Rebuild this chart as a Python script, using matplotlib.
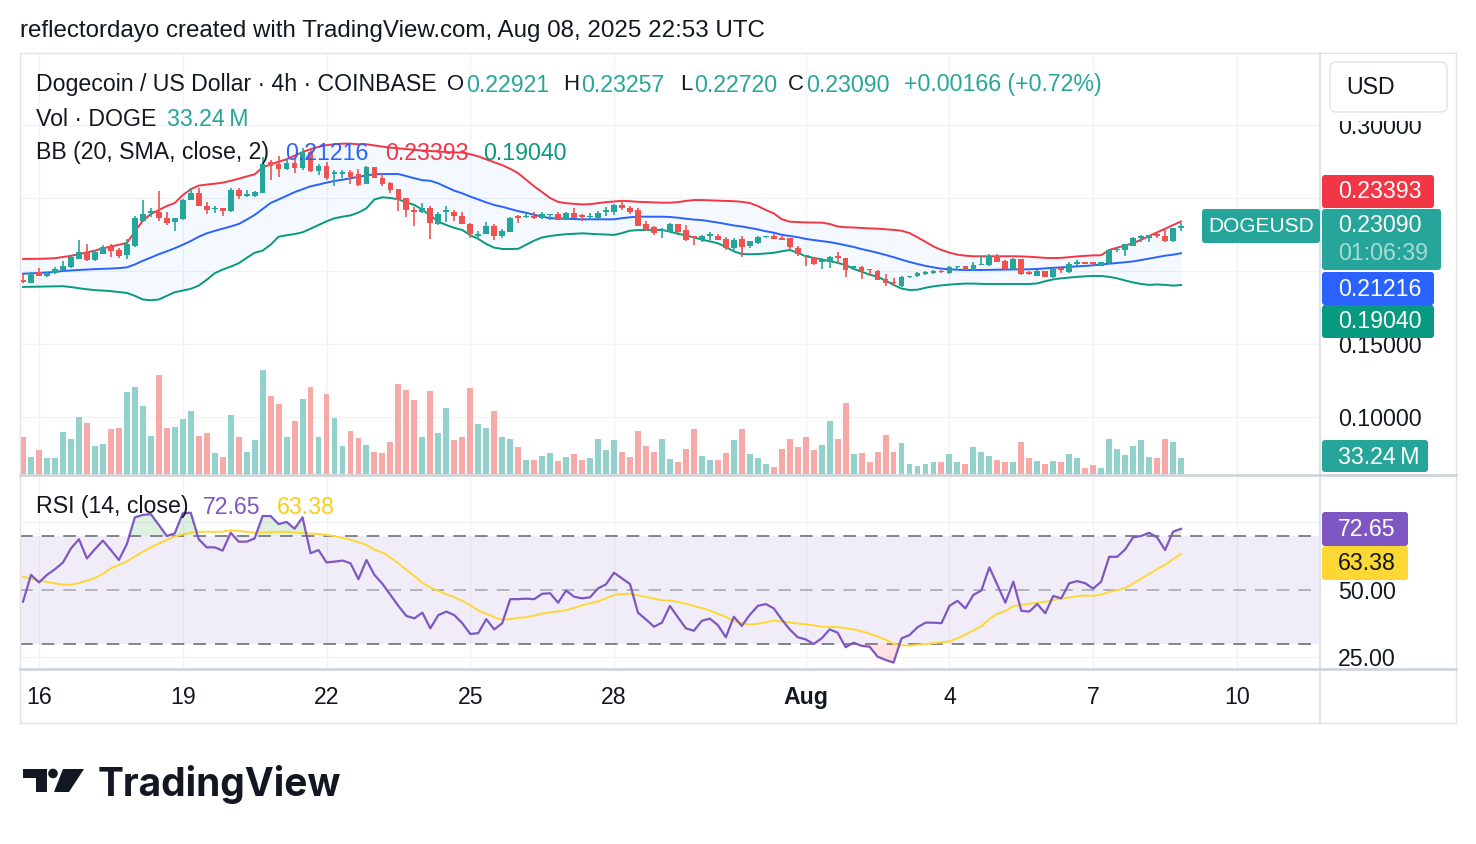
import numpy as np
import pandas as pd
import matplotlib
matplotlib.use("Agg")
import matplotlib.pyplot as plt
from matplotlib.patches import FancyBboxPatch, Rectangle, Polygon, Circle
from matplotlib.lines import Line2D
from matplotlib.transforms import Affine2D

# ---------------- data ----------------
start_time = "2025-07-15 16:00"
bar_hours = 4

opens = [0.1940, 0.1919, 0.1991, 0.1966, 0.1987, 0.2005, 0.2028, 0.2083, 0.2128, 0.2074,
         0.2119, 0.2165, 0.2146, 0.2110, 0.2174, 0.2343, 0.2397, 0.2402, 0.2365, 0.2338,
         0.2356, 0.2489, 0.2534, 0.2448, 0.2425, 0.2434, 0.2411, 0.2553, 0.2516, 0.2511,
         0.2534, 0.2744, 0.2735, 0.2698, 0.2740, 0.2708, 0.2817, 0.2685, 0.2717, 0.2662,
         0.2662, 0.2680, 0.2662, 0.2598, 0.2712, 0.2639, 0.2603, 0.2562, 0.2498, 0.2420,
         0.2402, 0.2434, 0.2324, 0.2402, 0.2406, 0.2379, 0.2320, 0.2242, 0.2256, 0.2311,
         0.2242, 0.2270, 0.2374, 0.2370, 0.2379, 0.2365, 0.2384, 0.2388, 0.2352, 0.2397,
         0.2384, 0.2370, 0.2361, 0.2402, 0.2402, 0.2452, 0.2434, 0.2420, 0.2320, 0.2301,
         0.2274, 0.2265, 0.2320, 0.2279, 0.2238, 0.2210, 0.2238, 0.2242, 0.2219, 0.2160,
         0.2219, 0.2169, 0.2192, 0.2233, 0.2238, 0.2229, 0.2224, 0.2160, 0.2110, 0.2092,
         0.2065, 0.2060, 0.2101, 0.2087, 0.2023, 0.2028, 0.2014, 0.2001, 0.1946, 0.1928,
         0.1900, 0.1960, 0.1966, 0.1982, 0.1987, 0.2001, 0.1987, 0.2028, 0.2032, 0.2005,
         0.2042, 0.2042, 0.2106, 0.2069, 0.2014, 0.2083, 0.1992, 0.1969, 0.2001, 0.1960,
         0.2019, 0.1992, 0.2051, 0.2065, 0.2060, 0.2033, 0.2056, 0.2142, 0.2142, 0.2174,
         0.2224, 0.2229, 0.2251, 0.2238, 0.2206, 0.22921]
highs = [0.1978, 0.1992, 0.2023, 0.1996, 0.2028, 0.2067, 0.2101, 0.2210, 0.2183, 0.2142,
         0.2178, 0.2187, 0.2156, 0.2219, 0.2379, 0.2489, 0.2429, 0.2548, 0.2406, 0.2365,
         0.2493, 0.2571, 0.2571, 0.2470, 0.2443, 0.2434, 0.2571, 0.2571, 0.2557, 0.2548,
         0.2780, 0.2758, 0.2790, 0.2758, 0.2780, 0.2840, 0.2835, 0.2735, 0.2744, 0.2690,
         0.2690, 0.2690, 0.2698, 0.2717, 0.2712, 0.2666, 0.2607, 0.2562, 0.2500, 0.2438,
         0.2466, 0.2443, 0.2402, 0.2448, 0.2416, 0.2406, 0.2329, 0.2274, 0.2338, 0.2320,
         0.2288, 0.2370, 0.2384, 0.2393, 0.2402, 0.2402, 0.2393, 0.2402, 0.2406, 0.2434,
         0.2393, 0.2397, 0.2411, 0.2438, 0.2461, 0.2484, 0.2443, 0.2434, 0.2343, 0.2306,
         0.2292, 0.2329, 0.2320, 0.2315, 0.2242, 0.2247, 0.2270, 0.2251, 0.2233, 0.2228,
         0.2242, 0.2206, 0.2242, 0.2242, 0.2260, 0.2242, 0.2224, 0.2169, 0.2110, 0.2096,
         0.2074, 0.2106, 0.2128, 0.2092, 0.2032, 0.2032, 0.2014, 0.2005, 0.1978, 0.1951,
         0.1964, 0.1969, 0.1996, 0.2001, 0.2005, 0.2005, 0.2032, 0.2037, 0.2037, 0.2065,
         0.2101, 0.2115, 0.2115, 0.2074, 0.2087, 0.2083, 0.2001, 0.2010, 0.2001, 0.2023,
         0.2019, 0.2060, 0.2074, 0.2065, 0.2065, 0.2065, 0.2151, 0.2160, 0.2187, 0.2233,
         0.2247, 0.2247, 0.2265, 0.2292, 0.2297, 0.23257]
lows = [0.1919, 0.1919, 0.1964, 0.1960, 0.1982, 0.2001, 0.2023, 0.2083, 0.2069, 0.2069,
        0.2115, 0.2096, 0.2092, 0.2083, 0.2165, 0.2338, 0.2370, 0.2343, 0.2315, 0.2274,
        0.2352, 0.2484, 0.2443, 0.2393, 0.2400, 0.2379, 0.2406, 0.2493, 0.2507, 0.2507,
        0.2534, 0.2621, 0.2644, 0.2689, 0.2671, 0.2690, 0.2680, 0.2658, 0.2625, 0.2580,
        0.2635, 0.2598, 0.2584, 0.2594, 0.2639, 0.2584, 0.2534, 0.2411, 0.2370, 0.2311,
        0.2397, 0.2220, 0.2315, 0.2334, 0.2343, 0.2320, 0.2228, 0.2219, 0.2251, 0.2215,
        0.2228, 0.2265, 0.2329, 0.2361, 0.2356, 0.2356, 0.2347, 0.2347, 0.2347, 0.2361,
        0.2343, 0.2352, 0.2356, 0.2379, 0.2384, 0.2416, 0.2393, 0.2306, 0.2274, 0.2247,
        0.2228, 0.2260, 0.2260, 0.2206, 0.2178, 0.2201, 0.2215, 0.2210, 0.2142, 0.2146,
        0.2096, 0.2156, 0.2187, 0.2224, 0.2219, 0.2210, 0.2151, 0.2101, 0.2037, 0.2042,
        0.2014, 0.2023, 0.2051, 0.1960, 0.2005, 0.1946, 0.1969, 0.1937, 0.1896, 0.1901,
        0.1891, 0.1951, 0.1960, 0.1973, 0.1982, 0.1987, 0.1982, 0.2005, 0.2005, 0.2001,
        0.2042, 0.2037, 0.2060, 0.2010, 0.2010, 0.1973, 0.1973, 0.1964, 0.1960, 0.1955,
        0.1987, 0.1987, 0.2033, 0.2046, 0.2037, 0.2033, 0.2051, 0.2128, 0.2101, 0.2169,
        0.2201, 0.2197, 0.2224, 0.2201, 0.2201, 0.22720]
closes = [0.1925, 0.1987, 0.1969, 0.1987, 0.2014, 0.2037, 0.2096, 0.2128, 0.2078, 0.2128,
          0.2165, 0.2137, 0.2106, 0.2183, 0.2365, 0.2388, 0.2411, 0.2361, 0.2329, 0.2361,
          0.2489, 0.2534, 0.2448, 0.2416, 0.2433, 0.2411, 0.2557, 0.2512, 0.2530, 0.2543,
          0.2735, 0.2717, 0.2698, 0.2740, 0.2708, 0.2817, 0.2685, 0.2717, 0.2635, 0.2676,
          0.2680, 0.2644, 0.2589, 0.2712, 0.2639, 0.2594, 0.2552, 0.2489, 0.2420, 0.2402,
          0.2434, 0.2329, 0.2393, 0.2416, 0.2379, 0.2320, 0.2251, 0.2256, 0.2311, 0.2242,
          0.2274, 0.2365, 0.2361, 0.2379, 0.2365, 0.2388, 0.2393, 0.2352, 0.2397, 0.2365,
          0.2370, 0.2379, 0.2397, 0.2416, 0.2452, 0.2429, 0.2406, 0.2311, 0.2283, 0.2261,
          0.2283, 0.2320, 0.2270, 0.2215, 0.2224, 0.2238, 0.2251, 0.2215, 0.2156, 0.2210,
          0.2165, 0.2206, 0.2233, 0.2242, 0.2219, 0.2215, 0.2165, 0.2115, 0.2101, 0.2051,
          0.2074, 0.2096, 0.2092, 0.2010, 0.2032, 0.2001, 0.2005, 0.1941, 0.1919, 0.1919,
          0.1960, 0.1969, 0.1987, 0.1996, 0.2001, 0.1992, 0.2028, 0.2037, 0.2010, 0.2042,
          0.2051, 0.2106, 0.2065, 0.2014, 0.2083, 0.1978, 0.1978, 0.2001, 0.1960, 0.2014,
          0.2010, 0.2051, 0.2065, 0.2051, 0.2051, 0.2060, 0.2142, 0.2151, 0.2183, 0.2228,
          0.2238, 0.2247, 0.2238, 0.2206, 0.2292, 0.23090]
volumes_m = [76, 36, 50, 33, 33, 88, 73, 119, 107, 59, 63, 94, 96, 171, 182, 142, 80, 205, 96, 98,
             115, 132, 80, 86, 43, 36, 123, 78, 46, 71, 217, 163, 146, 78, 111, 157, 182, 78, 167, 117,
             59, 90, 74, 61, 46, 44, 67, 188, 175, 153, 78, 173, 86, 138, 71, 78, 178, 105, 96, 132,
             76, 73, 57, 30, 30, 38, 44, 28, 36, 42, 30, 34, 73, 49, 71, 46, 36, 90, 59, 46,
             73, 32, 26, 51, 94, 38, 30, 30, 44, 71, 94, 42, 34, 21, 15, 51, 73, 57, 76, 49,
             61, 111, 73, 148, 42, 44, 24, 46, 82, 46, 65, 21, 17, 21, 26, 26, 42, 26, 21, 57,
             46, 38, 30, 24, 24, 67, 34, 28, 21, 28, 24, 42, 34, 13, 19, 13, 73, 53, 40, 59,
             71, 36, 34, 73, 67, 33.24]
bb_upper = [0.2083, 0.2083, 0.2084, 0.2085, 0.2088, 0.2096, 0.2104, 0.2115, 0.2128, 0.2140,
            0.2155, 0.2168, 0.2180, 0.2192, 0.2270, 0.2345, 0.2390, 0.2418, 0.2445, 0.2466,
            0.2520, 0.2560, 0.2585, 0.2592, 0.2598, 0.2605, 0.2618, 0.2632, 0.2648, 0.2662,
            0.2710, 0.2730, 0.2748, 0.2765, 0.2790, 0.2815, 0.2835, 0.2850, 0.2862, 0.2868,
            0.2872, 0.2872, 0.2868, 0.2868, 0.2860, 0.2852, 0.2845, 0.2840, 0.2835, 0.2830,
            0.2825, 0.2822, 0.2818, 0.2815, 0.2812, 0.2811, 0.2800, 0.2785, 0.2765, 0.2745,
            0.2725, 0.2700, 0.2670, 0.2625, 0.2580, 0.2540, 0.2500, 0.2473, 0.2465, 0.2460,
            0.2456, 0.2458, 0.2465, 0.2472, 0.2476, 0.2481, 0.2478, 0.2474, 0.2472, 0.2470,
            0.2468, 0.2468, 0.2472, 0.2480, 0.2486, 0.2486, 0.2484, 0.2482, 0.2480, 0.2478,
            0.2474, 0.2466, 0.2445, 0.2418, 0.2395, 0.2355, 0.2338, 0.2335, 0.2333, 0.2332,
            0.2331, 0.2322, 0.2305, 0.2300, 0.2298, 0.2295, 0.2292, 0.2290, 0.2286, 0.2282,
            0.2276, 0.2260, 0.2231, 0.2200, 0.2168, 0.2144, 0.2126, 0.2112, 0.2105, 0.2101,
            0.2101, 0.2101, 0.2101, 0.2101, 0.2101, 0.2100, 0.2098, 0.2094, 0.2090, 0.2089,
            0.2090, 0.2095, 0.2100, 0.2104, 0.2107, 0.2108, 0.2144, 0.2160, 0.2175, 0.2190,
            0.2215, 0.2240, 0.2265, 0.2290, 0.2315, 0.23393]
bb_basis = [0.1982, 0.1984, 0.1987, 0.1990, 0.1994, 0.2000, 0.2004, 0.2007, 0.2010, 0.2013,
            0.2015, 0.2017, 0.2020, 0.2025, 0.2045, 0.2070, 0.2092, 0.2115, 0.2135, 0.2156,
            0.2180, 0.2205, 0.2235, 0.2258, 0.2275, 0.2290, 0.2305, 0.2322, 0.2352, 0.2384,
            0.2425, 0.2466, 0.2490, 0.2515, 0.2540, 0.2560, 0.2580, 0.2592, 0.2605, 0.2617,
            0.2625, 0.2635, 0.2645, 0.2655, 0.2662, 0.2664, 0.2664, 0.2664, 0.2650, 0.2635,
            0.2622, 0.2618, 0.2600, 0.2575, 0.2550, 0.2532, 0.2510, 0.2490, 0.2470, 0.2452,
            0.2440, 0.2425, 0.2410, 0.2399, 0.2385, 0.2372, 0.2362, 0.2360, 0.2358, 0.2356,
            0.2354, 0.2354, 0.2354, 0.2354, 0.2354, 0.2362, 0.2368, 0.2372, 0.2372, 0.2372,
            0.2372, 0.2370, 0.2365, 0.2358, 0.2352, 0.2349, 0.2340, 0.2332, 0.2322, 0.2312,
            0.2305, 0.2295, 0.2285, 0.2272, 0.2263, 0.2248, 0.2240, 0.2232, 0.2220, 0.2212,
            0.2205, 0.2198, 0.2188, 0.2176, 0.2165, 0.2150, 0.2138, 0.2125, 0.2110, 0.2095,
            0.2078, 0.2062, 0.2048, 0.2035, 0.2025, 0.2016, 0.2012, 0.2009, 0.2007, 0.2007,
            0.2007, 0.2008, 0.2009, 0.2010, 0.2011, 0.2011, 0.2012, 0.2014, 0.2018, 0.2022,
            0.2025, 0.2028, 0.2032, 0.2035, 0.2039, 0.2045, 0.2050, 0.2055, 0.2060, 0.2066,
            0.2075, 0.2085, 0.2095, 0.2105, 0.2112, 0.21216]
bb_lower = [0.1891, 0.1892, 0.1893, 0.1894, 0.1895, 0.1896, 0.1890, 0.1882, 0.1875, 0.1869,
            0.1866, 0.1862, 0.1856, 0.1850, 0.1830, 0.1805, 0.1800, 0.1805, 0.1830, 0.1855,
            0.1866, 0.1878, 0.1900, 0.1940, 0.1985, 0.2010, 0.2030, 0.2053, 0.2090, 0.2125,
            0.2140, 0.2180, 0.2235, 0.2245, 0.2253, 0.2265, 0.2290, 0.2315, 0.2340, 0.2361,
            0.2372, 0.2381, 0.2400, 0.2430, 0.2490, 0.2505, 0.2500, 0.2491, 0.2470, 0.2452,
            0.2420, 0.2380, 0.2338, 0.2315, 0.2295, 0.2281, 0.2245, 0.2220, 0.2185, 0.2160,
            0.2151, 0.2151, 0.2152, 0.2180, 0.2208, 0.2230, 0.2240, 0.2247, 0.2252, 0.2255,
            0.2258, 0.2255, 0.2252, 0.2250, 0.2247, 0.2260, 0.2276, 0.2280, 0.2281, 0.2281,
            0.2281, 0.2270, 0.2255, 0.2244, 0.2230, 0.2215, 0.2203, 0.2190, 0.2165, 0.2135,
            0.2116, 0.2115, 0.2116, 0.2120, 0.2125, 0.2135, 0.2144, 0.2125, 0.2101, 0.2090,
            0.2080, 0.2068, 0.2056, 0.2040, 0.2015, 0.1995, 0.1975, 0.1961, 0.1935, 0.1905,
            0.1880, 0.1870, 0.1872, 0.1885, 0.1895, 0.1902, 0.1907, 0.1911, 0.1914, 0.1914,
            0.1912, 0.1911, 0.1911, 0.1911, 0.1911, 0.1911, 0.1911, 0.1915, 0.1930, 0.1943,
            0.1950, 0.1955, 0.1960, 0.1964, 0.1966, 0.1966, 0.1960, 0.1950, 0.1935, 0.1922,
            0.1911, 0.1905, 0.1908, 0.1905, 0.1900, 0.19040]
rsi = [45.7, 55.6, 52.8, 55.6, 57.7, 60.2, 65.4, 68.8, 61.7, 65.1, 68.3, 64.8, 61.1, 67.0, 76.9,
       77.8, 78.1, 74.1, 70.0, 71.0, 78.4, 78.6, 68.8, 65.8, 65.8, 64.6, 71.2, 67.9, 67.9, 69.1,
       77.4, 77.4, 74.4, 75.2, 72.7, 76.9, 63.6, 64.8, 60.2, 60.5, 60.9, 59.9, 54.0, 61.1, 55.6,
       52.3, 48.2, 44.1, 40.4, 39.5, 41.6, 35.8, 40.7, 42.0, 40.7, 37.7, 33.7, 34.0, 39.2, 35.4,
       37.7, 46.6, 46.6, 46.8, 46.6, 48.6, 48.8, 45.3, 49.8, 47.5, 46.9, 47.3, 50.6, 52.1, 56.4,
       54.3, 52.2, 41.6, 39.1, 36.4, 37.9, 44.1, 39.9, 35.8, 34.9, 38.6, 39.4, 37.0, 32.5, 40.1,
       36.7, 40.8, 44.1, 44.8, 43.2, 39.1, 35.4, 32.5, 31.7, 30.0, 32.1, 35.4, 34.2, 28.8, 30.5,
       29.3, 29.0, 25.3, 24.1, 23.1, 32.1, 33.3, 36.2, 37.9, 37.9, 37.7, 44.1, 46.0, 43.2, 48.2,
       49.8, 58.4, 51.9, 45.3, 53.1, 42.3, 42.0, 44.8, 41.4, 47.8, 46.9, 52.5, 53.3, 52.5, 50.5,
       53.1, 62.3, 62.3, 65.0, 69.5, 70.0, 71.2, 69.5, 64.8, 71.6, 72.65]
rsi_ma = [54.9, 54.2, 53.6, 53.0, 52.4, 52.0, 51.9, 52.6, 53.5, 54.4, 56.0, 58.0, 59.3, 60.6, 62.4,
          64.2, 65.8, 67.2, 68.6, 69.8, 70.6, 71.2, 71.6, 71.6, 71.5, 71.6, 72.1, 71.9, 71.5, 71.3,
          71.3, 71.4, 71.6, 71.5, 71.3, 71.1, 70.9, 70.7, 70.4, 70.0, 69.3, 68.6, 67.7, 66.7, 64.9,
          63.9, 62.0, 59.9, 57.4, 55.2, 52.6, 51.0, 49.6, 48.4, 47.3, 46.0, 44.4, 42.4, 41.2, 39.9,
          39.0, 39.2, 39.7, 39.9, 40.5, 41.3, 41.7, 42.1, 42.5, 43.4, 44.3, 45.1, 45.8, 46.9, 48.2,
          48.5, 48.6, 48.0, 47.5, 46.8, 46.2, 46.1, 45.6, 44.9, 44.1, 43.3, 42.4, 41.2, 40.0, 38.5,
          37.7, 37.2, 37.5, 38.0, 38.7, 38.3, 38.0, 37.6, 37.3, 36.9, 36.4, 36.3, 36.3, 35.9, 35.4,
          34.7, 33.8, 32.7, 31.6, 30.1, 29.5, 29.4, 29.7, 30.0, 30.3, 30.6, 31.0, 32.1, 33.5, 35.0,
          36.6, 39.2, 41.2, 42.2, 44.0, 44.5, 44.9, 45.3, 45.6, 46.3, 46.8, 47.2, 47.7, 48.0, 47.8,
          48.3, 49.3, 49.9, 50.7, 52.4, 54.2, 55.9, 57.7, 59.3, 61.4, 63.38]

tick_dates = ["2025-07-16", "2025-07-19", "2025-07-22", "2025-07-25", "2025-07-28",
              "2025-08-01", "2025-08-04", "2025-08-07", "2025-08-10"]
tick_labels = ["16", "19", "22", "25", "28", "Aug", "4", "7", "10"]
price_ticks = [0.30, 0.15, 0.10]
price_grid = [0.30, 0.25, 0.20, 0.15, 0.10]
rsi_ticks = [50, 25]

# ---------------- style ----------------
W, H = 1476, 844
plt.rcParams['font.family'] = ['Liberation Sans', 'DejaVu Sans']
FS = 16.7
TXT = '#131722'
UP, DOWN = '#26A69A', '#EF5350'
VUP, VDOWN = '#93D2CC', '#F7A9A7'
GRID = '#F0F2F5'
BORDER = '#E0E3EB'

o = np.array(opens); h = np.array(highs); l = np.array(lows); c = np.array(closes)
n = len(c)
idx = np.arange(n)
t0 = pd.Timestamp(start_time)
tick_idx = [(pd.Timestamp(d) - t0) / pd.Timedelta(hours=bar_hours) for d in tick_dates]
up = c >= o

fig = plt.figure(figsize=(W / 100, H / 100), dpi=100)
fig.patch.set_facecolor('white')
PX = Affine2D().scale(1.0 / W, -1.0 / H).translate(0, 1) + fig.transFigure


def add_ax(x0, y0, x1, y1, z):
    a = fig.add_axes([x0 / W, 1 - y1 / H, (x1 - x0) / W, (y1 - y0) / H], zorder=z)
    a.patch.set_visible(False)
    for s in a.spines.values():
        s.set_visible(False)
    return a


def txt(x, y, s, size=FS, color=TXT, ha='left', va='center', weight='normal', z=6, **kw):
    fig.text(x, y, s, transform=PX, fontsize=size, color=color, ha=ha, va=va,
             fontweight=weight, zorder=z, **kw)


def box(x0, y0, x1, y1, fc, ec='none', r=3, z=5, lw=1.0):
    fig.add_artist(FancyBboxPatch((x0, y0), x1 - x0, y1 - y0,
                                  boxstyle=f"round,pad=0,rounding_size={r}",
                                  transform=PX, fc=fc, ec=ec, lw=lw, zorder=z))


def hline(y, x0, x1, color=BORDER, lw=1.0, z=3):
    fig.add_artist(Line2D([x0, x1], [y, y], transform=PX, color=color, lw=lw, zorder=z))


def vline(x, y0, y1, color=BORDER, lw=1.0, z=3):
    fig.add_artist(Line2D([x, x], [y0, y1], transform=PX, color=color, lw=lw, zorder=z))


XL = (-0.38, 162.4)
PYL = (0.0610, 0.3493)
VYL = (0, 876)
RYL = (21.11, 92.96)

# ---- volume axis (bottom layer) + grid
vax = add_ax(20, 53, 1320, 474, 1)
vax.set_xlim(*XL); vax.set_ylim(*VYL)
vax.set_xticks([]); vax.set_yticks([])
pfrac = lambda p: (p - PYL[0]) / (PYL[1] - PYL[0]) * (VYL[1] - VYL[0])
for p in price_grid:
    vax.axhline(pfrac(p), color=GRID, lw=1, zorder=0)
for t in tick_idx:
    vax.axvline(t, color=GRID, lw=1, zorder=0)
vax.bar(idx, volumes_m, width=0.74, color=np.where(up, VUP, VDOWN), zorder=1)

# ---- price axis
ax = add_ax(20, 53, 1320, 474, 2)
ax.set_xlim(*XL); ax.set_ylim(*PYL)
ax.set_xticks([])
ax.yaxis.tick_right()
ax.set_yticks(price_ticks)
ax.set_yticklabels([f"{p:.5f}" for p in price_ticks])
ax.tick_params(axis='y', length=0, pad=13, labelsize=FS, labelcolor=TXT)

ax.fill_between(idx, bb_upper, bb_lower, color='#2196F3', alpha=0.05, lw=0, zorder=1)
ax.plot(idx, bb_upper, color='#F23645', lw=1.4, zorder=2)
ax.plot(idx, bb_basis, color='#2962FF', lw=1.4, zorder=2)
ax.plot(idx, bb_lower, color='#089981', lw=1.4, zorder=2)

cols = np.where(up, UP, DOWN)
ax.vlines(idx, l, h, colors=cols, lw=1.2, zorder=3)
body = np.maximum(np.abs(c - o), 0.0008)
ax.bar(idx, body, bottom=np.minimum(o, c), width=0.72, color=cols, zorder=4)

# ---- RSI axis
rax = add_ax(20, 474, 1320, 668, 2)
rax.set_xlim(*XL); rax.set_ylim(*RYL)
for t in tick_idx:
    rax.axvline(t, color=GRID, lw=1, zorder=0)
for g in (75, 25):
    rax.axhline(g, color=GRID, lw=1, zorder=0)
rax.axhspan(30, 70, color='#7E57C2', alpha=0.10, lw=0, zorder=0.5)
for g in (70, 50, 30):
    rax.axhline(g, color='#787B86', lw=1.3, ls=(0, (7, 5)), zorder=1,
                alpha=1.0 if g != 50 else 0.55)
r = np.array(rsi)
rax.fill_between(idx, r, 70, where=r > 70, interpolate=True, color='#4CAF50', alpha=0.18, lw=0, zorder=1)
rax.fill_between(idx, r, 30, where=r < 30, interpolate=True, color='#F23645', alpha=0.15, lw=0, zorder=1)
rax.plot(idx, rsi_ma, color='#FDD835', lw=1.4, zorder=2)
rax.plot(idx, rsi, color='#7E57C2', lw=1.6, zorder=3)
rax.yaxis.tick_right()
rax.set_yticks(rsi_ticks)
rax.set_yticklabels([f"{v:.2f}" for v in rsi_ticks])
rax.tick_params(axis='y', length=0, pad=13, labelsize=FS, labelcolor=TXT)
rax.set_xticks(tick_idx)
rax.set_xticklabels(tick_labels)
rax.tick_params(axis='x', length=0, pad=13, labelsize=FS, labelcolor=TXT)
for lab in rax.get_xticklabels():
    if lab.get_text() == 'Aug':
        lab.set_fontweight('bold')

# ---- frame lines
hline(53, 20, 1456)
hline(723, 20, 1456)
vline(20, 53, 723)
vline(1456, 53, 723)
vline(1320, 53, 723, color='#E0E3EB', lw=1.5)
hline(474.5, 20, 1456, color='#D1D4DC', lw=2)
hline(668.5, 20, 1456, color='#D1D4DC', lw=2)

# white cover above 0.30000 label and USD box
fig.add_artist(Rectangle((1322, 54), 133, 67, transform=PX, fc='white', ec='none', zorder=4))
box(1330, 62, 1447, 112, 'white', ec='#E0E3EB', r=6, z=5)
txt(1346, 88, "USD")

# ---- header texts
txt(20, 31, "reflectordayo created with TradingView.com, Aug 08, 2025 22:53 UTC", size=17.4)
G = '#26A69A'
txt(36, 85, "Dogecoin / US Dollar \u00b7 4h \u00b7 COINBASE")
for xl, key, val in [(465, "O", "0.22921"), (580, "H", "0.23257"),
                     (693, "L", "0.22720"), (805, "C", "0.23090")]:
    txt(xl - 1, 85, key, ha='right', size=FS - 0.8)
    txt(xl + 1, 85, val, color=G)
txt(904, 85, "+0.00166 (+0.72%)", color=G)
txt(36, 119, "Vol \u00b7 DOGE")
txt(167, 119, "33.24\u2009M", color=G)
txt(36, 153, "BB (20, SMA, close, 2)")
txt(285, 153, "0.21216", color='#2962FF')
txt(385, 153, "0.23393", color='#F23645')
txt(483, 153, "0.19040", color='#089981')
txt(36, 507, "RSI (14, close)")
txt(203, 507, "72.65", color='#7E57C2')
txt(277, 507, "63.38", color='#F9CE1D')

# ---- right-side value labels
box(1322, 175, 1434, 208, '#F23645', r=3)
txt(1338, 192, "0.23393", color='white')
box(1202, 209, 1320, 243, '#26A69A', r=3)
txt(1261, 226, "DOGEUSD", color='white', ha='center', size=15)
box(1322, 209, 1441, 270, '#26A69A', r=3)
txt(1338, 226, "0.23090", color='white')
txt(1338, 254, "01:06:39", color='#A9DCD7')
box(1322, 272, 1434, 305, '#2962FF', r=3)
txt(1338, 290, "0.21216", color='white')
box(1322, 305, 1434, 338, '#089981', r=3)
txt(1338, 321, "0.19040", color='white')
box(1322, 440, 1428, 472, '#26A69A', r=3)
txt(1338, 458, "33.24\u2009M", color='white')
box(1322, 512, 1408, 546, '#7E57C2', r=3)
txt(1338, 529, "72.65", color='white')
box(1322, 546, 1408, 580, '#FDD835', r=3)
txt(1338, 563, "63.38", color=TXT)

# ---- TradingView logo
fig.add_artist(Polygon([(23, 769), (47, 769), (47, 792), (36, 792), (36, 778), (23, 778)],
                       closed=True, transform=PX, fc='#131722', ec='none', zorder=6))
fig.add_artist(Circle((53, 773.5), 4.8, transform=PX, fc='#131722', ec='none', zorder=6))
fig.add_artist(Polygon([(63, 769), (84, 769), (69, 792), (54, 792)],
                       closed=True, transform=PX, fc='#131722', ec='none', zorder=6))
txt(98, 785, "TradingView", size=28, weight='bold', family=['Inter', 'DejaVu Sans'])

fig.savefig("out.png", dpi=100, facecolor='white')
